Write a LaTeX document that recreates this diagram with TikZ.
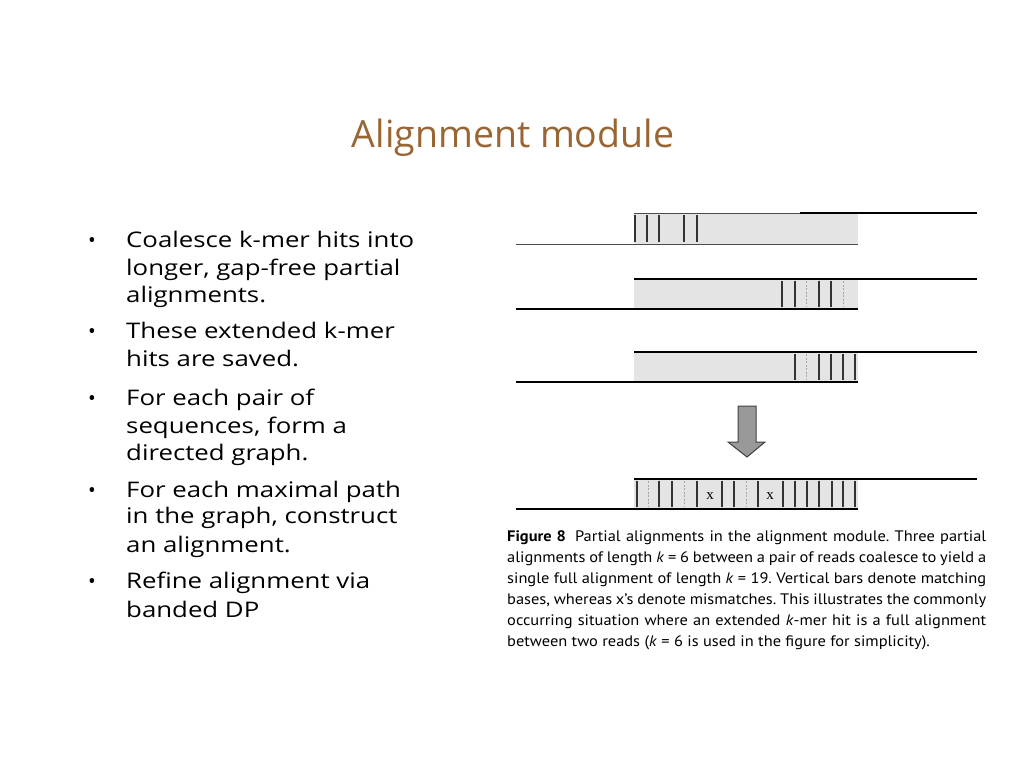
\documentclass[tikz,border=0pt]{standalone}
\usepackage{fontspec}
\setmainfont{Open Sans}
\newfontfamily\bulfont[FakeStretch=1.2]{Open Sans}
\newfontfamily\capfont[FakeStretch=1.08]{PT Sans}
\newfontfamily\serifx{Liberation Serif}
\definecolor{titlebrown}{HTML}{996633}
\definecolor{boxgray}{HTML}{E4E4E4}
\begin{document}
\begin{tikzpicture}[x=1pt,y=-1pt,
  bul/.style={anchor=base west, inner sep=0pt, font=\bulfont\fontsize{21.5}{24}\selectfont},
  dot/.style={anchor=base, inner sep=0pt, font=\fontsize{20.5}{24}\selectfont},
  capline/.style={anchor=base west, inner sep=0pt, font=\capfont\fontsize{15.2}{17}\selectfont\frenchspacing},
  seqline/.style={line width=2pt, black},
  thinseq/.style={line width=1pt, black!70},
  hitbox/.style={fill=boxgray, draw=none},
  matchbar/.style={line width=1.1pt, black!80},
  faintbar/.style={line width=0.8pt, black!35, dash pattern=on 2pt off 1.5pt},
  blockarrow/.style={fill=black!40, draw=black!75, line width=1pt, line join=miter},
  mis/.style={font=\serifx\fontsize{15}{15}\selectfont, inner sep=0pt, anchor=base}
]
\useasboundingbox (0,0) rectangle (1024,768);

% title
\node[anchor=base, inner sep=0pt, text=titlebrown, font=\fontsize{37.5}{40}\selectfont] (title) at (513,147) {Alignment module};

% bullets
\foreach \y/\n in {247/d1,338/d2,405/d3,497/d4,588/d5}
  \node[dot] (\n) at (92,\y) {•};
\node[bul] (b1a) at (126,247) {Coalesce k-mer hits into};
\node[bul] (b1b) at (126,275) {longer, gap-free partial};
\node[bul] (b1c) at (126,302) {alignments.};
\node[bul] (b2a) at (126,338) {These extended k-mer};
\node[bul] (b2b) at (126,366) {hits are saved.};
\node[bul] (b3a) at (126,405) {For each pair of};
\node[bul] (b3b) at (126,433) {sequences, form a};
\node[bul] (b3c) at (126,460) {directed graph.};
\node[bul] (b4a) at (126,497) {For each maximal path};
\node[bul] (b4b) at (126,523) {in the graph, construct};
\node[bul] (b4c) at (126,552) {an alignment.};
\node[bul] (b5a) at (126,588) {Refine alignment via};
\node[bul] (b5b) at (126,617) {banded DP};

% row 1
\fill[hitbox] (634,213) rectangle (858,244);
\draw[thinseq] (634,213) -- (800,213);
\draw[line width=1.5pt, black] (800,213) -- (977,213);
\draw[thinseq] (516,244) -- (858,244);
\foreach \x in {635,647,659,684,697}
  \draw[matchbar] (\x,215) -- (\x,242);

% row 2
\fill[hitbox] (634,279) rectangle (858,309);
\draw[seqline] (634,279) -- (977,279);
\draw[seqline] (516,309) -- (858,309);
\foreach \x in {782,795,819,831}
  \draw[matchbar] (\x,281) -- (\x,307);
\foreach \x in {806,843}
  \draw[faintbar] (\x,281) -- (\x,307);

% row 3
\fill[hitbox] (634,352) rectangle (858,382);
\draw[seqline] (634,352) -- (977,352);
\draw[seqline] (516,382) -- (858,382);
\foreach \x in {795,819,831,843,855}
  \draw[matchbar] (\x,354) -- (\x,380);
\draw[faintbar] (806,354) -- (806,380);

% arrow
\draw[blockarrow] (738,406) -- (756,406) -- (756,442) -- (765,442) -- (747,457) -- (728,442) -- (738,442) -- cycle;

% row 4 (full alignment)
\fill[hitbox] (634,479) rectangle (858,509);
\draw[seqline] (634,479) -- (977,479);
\draw[seqline] (516,509) -- (858,509);
\foreach \x in {637,659,672,697,722,734,758,783,795,807,819,832,843,855}
  \draw[matchbar] (\x,481) -- (\x,507);
\foreach \x in {648,684,746}
  \draw[faintbar] (\x,481) -- (\x,507);
\node[mis] (m1) at (710,499) {x};
\node[mis] (m2) at (770,499) {x};

% caption
\node[capline] (c1) at (507,541) {\makebox[479pt][s]{\textbf{Figure 8}\hspace{9pt}Partial alignments in the alignment module. Three partial}};
\node[capline] (c2) at (507,562) {\makebox[479pt][s]{alignments of length \textit{k} = 6 between a pair of reads coalesce to yield a}};
\node[capline] (c3) at (507,583) {\makebox[479pt][s]{single full alignment of length \textit{k} = 19. Vertical bars denote matching}};
\node[capline] (c4) at (507,604) {\makebox[479pt][s]{bases, whereas x’s denote mismatches. This illustrates the commonly}};
\node[capline] (c5) at (507,625) {\makebox[479pt][s]{occurring situation where an extended \textit{k}-mer hit is a full alignment}};
\node[capline] (c6) at (507,646) {between two reads (\textit{k} = 6 is used in the figure for simplicity).};
\end{tikzpicture}
\end{document}
